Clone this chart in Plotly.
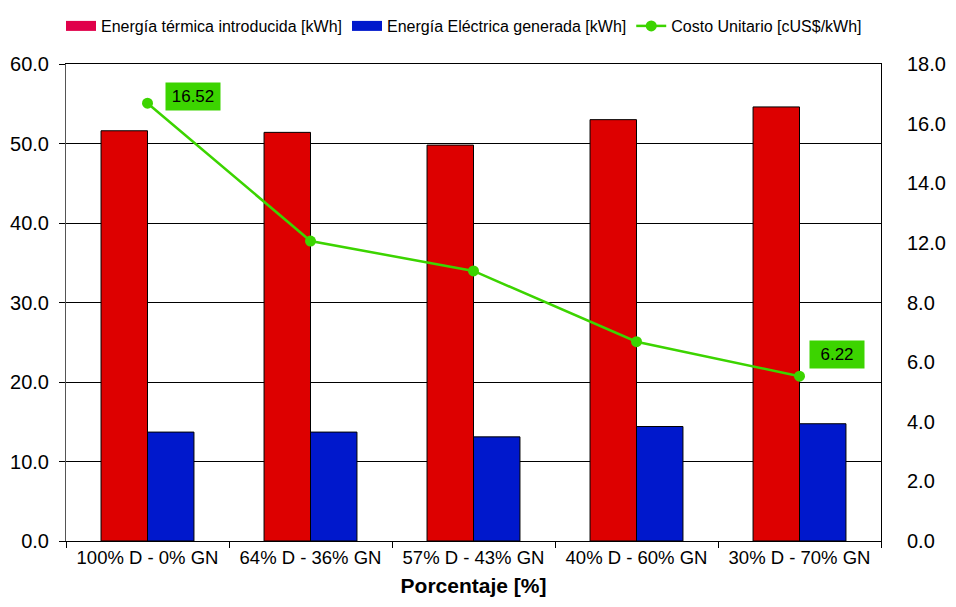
import plotly.graph_objects as go

categories = ["100% D - 0% GN", "64% D - 36% GN", "57% D - 43% GN", "40% D - 60% GN", "30% D - 70% GN"]
energia_termica = [51.6, 51.4, 49.8, 53.0, 54.6]
energia_electrica = [13.7, 13.7, 13.1, 14.4, 14.75]
costo_unitario = [16.52, 11.32, 10.19, 7.52, 6.22]

left_ticks = [0, 10, 20, 30, 40, 50, 60]
right_tickvals = [0, 2.25, 4.5, 6.75, 9, 11.25, 13.5, 15.75, 18]
right_ticktext = ["0.0", "2.0", "4.0", "6.0", "8.0", "12.0", "14.0", "16.0", "18.0"]

FONT = "Liberation Sans, Arial, sans-serif"
RED = "#DD0000"
BLUE = "#0018CC"
GREEN = "#3CD400"

fig = go.Figure()
fig.add_trace(go.Bar(x=categories, y=energia_termica, name="Energía térmica introducida [kWh]",
                     marker=dict(color=RED, line=dict(color="black", width=1)), showlegend=False))
fig.add_trace(go.Bar(x=categories, y=energia_electrica, name="Energía Eléctrica generada [kWh]",
                     marker=dict(color=BLUE, line=dict(color="black", width=1)), showlegend=False))
# legend-only entries
fig.add_trace(go.Scatter(x=[None], y=[None], mode="lines", name="Energía térmica introducida [kWh]",
                         line=dict(color="#E0004A", width=10)))
fig.add_trace(go.Scatter(x=[None], y=[None], mode="lines", name="Energía Eléctrica generada [kWh]",
                         line=dict(color="#0018CC", width=10)))
fig.add_trace(go.Scatter(x=categories, y=costo_unitario, name="Costo Unitario [cUS$/kWh]", yaxis="y2",
                         mode="lines+markers", line=dict(color=GREEN, width=2.5),
                         marker=dict(color=GREEN, size=11)))

# data labels for first and last points
for idx, (dx, dy) in [(0, (45, 7)), (len(categories) - 1, (37, 22))]:
    fig.add_annotation(x=categories[idx], y=costo_unitario[idx], xref="x", yref="y2",
                       text=f"{costo_unitario[idx]:.2f}", showarrow=False, xshift=dx, yshift=dy,
                       width=46, height=19, bgcolor=GREEN, borderpad=4,
                       font=dict(family=FONT, size=17, color="black"))

fig.update_layout(
    width=940, height=607,
    margin=dict(l=58, r=67, t=56, b=74, autoexpand=False),
    paper_bgcolor="white", plot_bgcolor="white",
    barmode="group", bargap=0.43, bargroupgap=0,
    font=dict(family=FONT, color="black"),
    legend=dict(orientation="h", x=53 / 940, y=1 - 1 / 607, xref="container", yref="container",
                xanchor="left", yanchor="top",
                font=dict(family=FONT, size=16), itemwidth=30, tracegroupgap=0),
    xaxis=dict(type="category", showline=True, linecolor="black", linewidth=1, mirror=True,
               ticks="outside", tickson="boundaries", ticklen=6, tickcolor="black",
               tickfont=dict(family=FONT, size=18.5), automargin=False,
               title=dict(text="<b>Porcentaje [%]</b>", font=dict(family=FONT, size=21), standoff=11)),
    yaxis=dict(range=[0, 60], tickvals=left_ticks, tickformat=".1f", showgrid=True, gridcolor="black",
               gridwidth=1, showline=True, linecolor="#555555", linewidth=1, mirror=False,
               ticks="outside", ticklen=6, tickcolor="black", tickfont=dict(family=FONT, size=20),
               ticklabelstandoff=6, zeroline=False, automargin=False),
    yaxis2=dict(range=[0, 18], overlaying="y", side="right", tickvals=right_tickvals,
                ticktext=right_ticktext, showgrid=False, showline=True, linecolor="black",
                ticks="", ticklabelstandoff=21, tickfont=dict(family=FONT, size=20), zeroline=False,
                automargin=False),
)

fig.write_html("out.html")
